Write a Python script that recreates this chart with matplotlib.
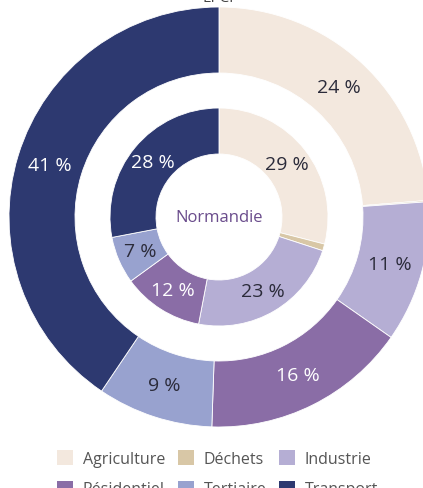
import numpy as np
import matplotlib
matplotlib.use("Agg")
from matplotlib import pyplot as plt
from matplotlib.patches import Patch

plt.rcParams['font.family'] = ['Open Sans', 'DejaVu Sans']

categories = ['Agriculture', 'Déchets', 'Industrie', 'Résidentiel', 'Tertiaire', 'Transport']
epci = [24, 0.1, 11, 16, 9, 41]
normandie = [29, 1, 23, 12, 7, 28]
colors = ['#f3e8de', '#d8c7a6', '#b5aed4', '#8a6da6', '#98a2cf', '#2d3970']
txt_colors = ['#2b2b3a', '#2b2b3a', '#2b2b3a', 'white', '#2b2b3a', 'white']

W, H = 423, 489
cx, cy, R = 219, 218, 210  # pixels

fig = plt.figure(figsize=(W / 100, H / 100), dpi=100)
ax = fig.add_axes([0, 0, 1, 1])

def ring(vals, radius, width, label_r):
    wedges, _ = ax.pie(vals, radius=radius, startangle=90, counterclock=False,
                       colors=colors, wedgeprops=dict(width=width, edgecolor='white', linewidth=0.6))
    for w, v, c in zip(wedges, vals, txt_colors):
        if v < 2:
            continue
        a = np.deg2rad((w.theta1 + w.theta2) / 2)
        ax.text(label_r * np.cos(a), label_r * np.sin(a), f'{v:g} %', ha='center', va='center',
                fontsize=14, color=c)

ring(epci, 1.0, 66 / R, 177 / R)
ring(normandie, 109 / R, 46 / R, 86 / R)

ax.text(0, 0, 'Normandie', ha='center', va='center', fontsize=12, color='#6a4c8c')

ax.set_xlim(-cx / R, (W - cx) / R)
ax.set_ylim(-(H - cy) / R, cy / R)
ax.set_aspect('auto')
ax.axis('off')

fig.text(0.515, 1 - 2 / H, 'EPCI', ha='center', va='baseline', fontsize=11, color='#444444')

order = [0, 3, 1, 4, 2, 5]
handles = [Patch(facecolor=colors[i], edgecolor='none', label=categories[i]) for i in order]
fig.legend(handles=handles, ncol=3, loc='upper center', bbox_to_anchor=(0.515, 1 - 437 / H),
           frameon=False, fontsize=11.5, handlelength=1.0, handleheight=1.0, handletextpad=0.6,
           columnspacing=0.8, labelspacing=0.85, labelcolor='#555555')

fig.savefig('out.png', dpi=100)
